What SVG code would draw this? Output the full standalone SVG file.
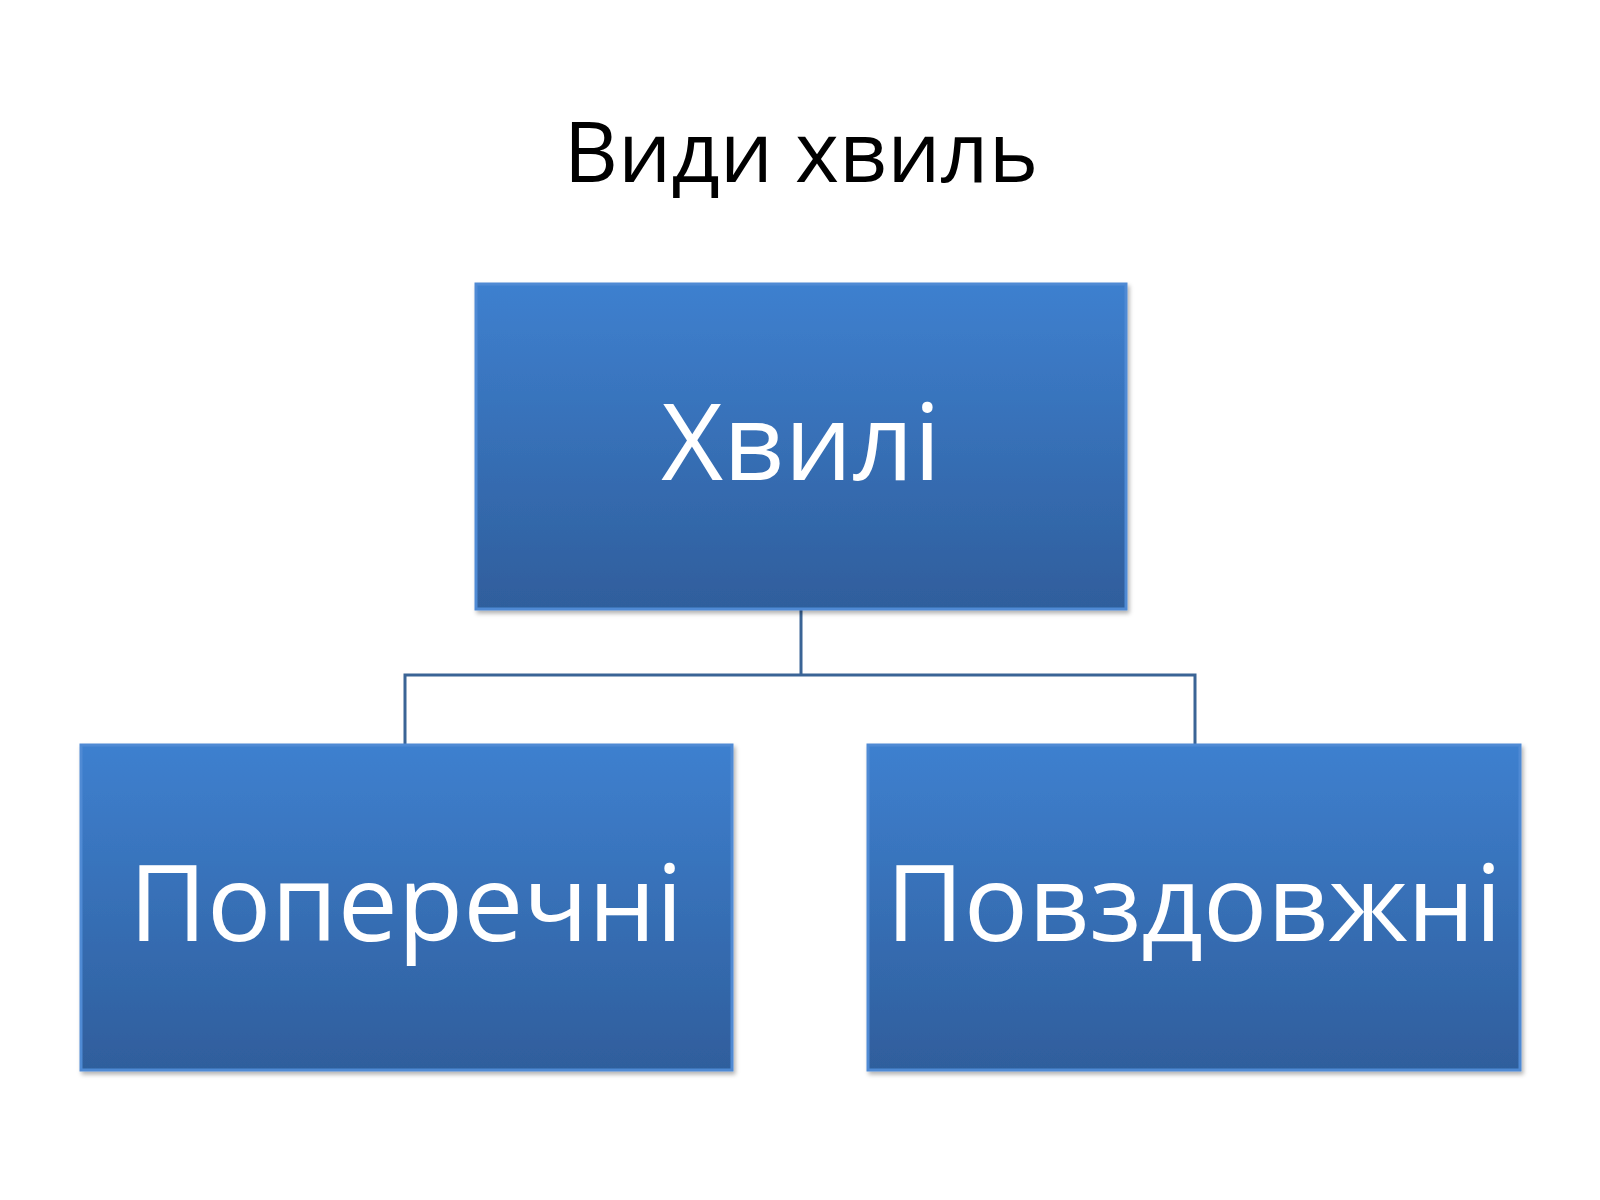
<svg xmlns="http://www.w3.org/2000/svg" width="1600" height="1200" viewBox="0 0 1600 1200">
<style>
.box{fill:url(#g);stroke:#4f8ad4;stroke-width:3}
.lbl{font-family:"Open Sans","Liberation Sans",sans-serif;font-size:107px;fill:#fff;text-anchor:middle}
.conn{fill:none;stroke:#3a6496;stroke-width:3}
</style>
<defs>
<linearGradient id="g" x1="0" y1="0" x2="0" y2="1">
<stop offset="0" stop-color="#3e80cf"/>
<stop offset="1" stop-color="#2f5e9c"/>
</linearGradient>
<filter id="sh" x="-5%" y="-5%" width="110%" height="115%">
<feDropShadow dx="2" dy="3" stdDeviation="2" flood-color="#000" flood-opacity="0.3"/>
</filter>
</defs>
<rect width="1600" height="1200" fill="#fff"/>
<text x="801" y="182" font-family="'Open Sans','Liberation Sans',sans-serif" font-size="84" text-anchor="middle" fill="#000">Види хвиль</text>
<g id="connectors">
<path class="conn" d="M801 609V675M405 745V675H1195V745"/>
</g>
<g id="n-hvyli">
<rect class="box" x="476" y="284" width="650" height="325" filter="url(#sh)"/>
<text class="lbl" x="801" y="480">Хвилі</text>
</g>
<g id="n-poperechni">
<rect class="box" x="81" y="745" width="651" height="325" filter="url(#sh)"/>
<text class="lbl" x="406" y="941">Поперечні</text>
</g>
<g id="n-povzdovzhni">
<rect class="box" x="868" y="745" width="652" height="325" filter="url(#sh)"/>
<text class="lbl" x="1194" y="941">Повздовжні</text>
</g>
</svg>
